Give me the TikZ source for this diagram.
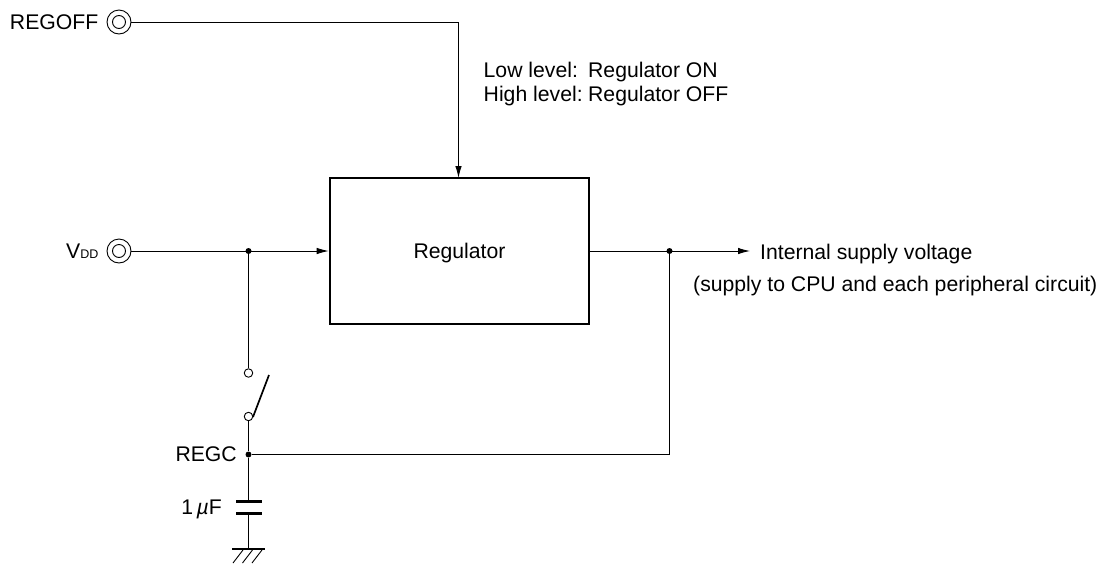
\documentclass[tikz,border=0pt]{standalone}
\usepackage{fontspec}
\setmainfont{Liberation Sans}
\usetikzlibrary{arrows.meta}
\tikzset{
  wire/.style={line width=0.9pt,line cap=butt},
  sig/.style={wire,-{Latex[length=12pt,width=6.5pt]}},
  txt/.style={inner sep=0pt,font=\fontsize{21.2pt}{24pt}\selectfont},
  pinout/.style={circle,draw,line width=0.9pt,minimum size=24pt,inner sep=0pt,fill=white},
  pinin/.style={circle,draw,line width=0.9pt,minimum size=13pt,inner sep=0pt},
  jdot/.style={circle,fill=black,minimum size=6pt,inner sep=0pt},
  contact/.style={circle,draw,line width=0.9pt,fill=white,minimum size=8.5pt,inner sep=0pt},
  plate/.style={line width=2.3pt},
  regbox/.style={draw,line width=2.6pt,minimum width=259pt,minimum height=146pt,inner sep=0pt}
}
\begin{document}
\begin{tikzpicture}[x=1pt,y=-1pt]
\useasboundingbox (0,0) rectangle (1104,563);
% pins
\node[pinout] (regoff) at (119,22) {};
\node[pinin] at (119,22) {};
\node[pinout] (vdd) at (119,251) {};
\node[pinin] at (119,251) {};
% regulator
\node[regbox] (reg) at (459.5,251) {};
\node[txt] at (459.5,253.5) {Regulator};
% coordinates
\coordinate (top) at (458.5,22);
\coordinate (topin) at (458.5,178);
\node[jdot] (j1) at (248.5,251) {};
\node[jdot] (j2) at (669.5,251) {};
\node[jdot] (j3) at (248.5,454.5) {};
\coordinate (out) at (750,251);
\node[contact] (s1) at (248.5,373) {};
\node[contact] (s2) at (248.5,416.5) {};
\coordinate (blade) at (269,375);
\coordinate (bladeb) at (253,417);
\coordinate (c1) at (248.5,501.5);
\coordinate (c2) at (248.5,513.5);
\coordinate (g) at (248.5,549);
\coordinate (corner) at (669.5,454.5);
% wires
\draw[wire] (regoff) -- (top);
\draw[sig] (top) -- (topin);
\draw[sig] (vdd) -- (reg.west |- vdd);
\draw[sig] (reg.east |- j2) -- (out);
\draw[wire] (j1) -- (s1);
\draw[wire] (s2) -- (j3) -- (c1);
\draw[wire] (j3) -- (corner) -- (j2);
\draw[wire] (c2) -- (g);
\draw[line width=1.7pt] (bladeb) -- (blade);
% capacitor
\draw[plate] (236,501.5) -- (262,501.5);
\draw[plate] (236,513.5) -- (262,513.5);
% ground
\draw[line width=1.9pt] (232,549) -- (265,549);
\draw[wire] (243,550) -- (233,563);
\draw[wire] (252.5,550) -- (242.5,563);
\draw[wire] (262,550) -- (252,563);
% labels
\node[txt,anchor=base east] at (98.5,29) {REGOFF};
\node[txt,anchor=base west] at (66,258) {V{\fontsize{12.5pt}{15pt}\selectfont DD}};
\node[txt,anchor=base west] at (483.5,77.5) {\makebox[104.5pt][l]{Low level:}Regulator ON};
\node[txt,anchor=base west] at (483.5,101.5) {\makebox[104.5pt][l]{High level:}Regulator OFF};
\node[txt,anchor=base west] at (760,259) {Internal supply voltage};
\node[txt,anchor=base west] at (693,291) {(supply to CPU and each peripheral circuit)};
\node[txt,anchor=base east] at (237,461) {REGC};
\node[txt,anchor=base east] at (222,514) {1\hspace{3.5pt}\textit{µ}F};
\end{tikzpicture}
\end{document}
